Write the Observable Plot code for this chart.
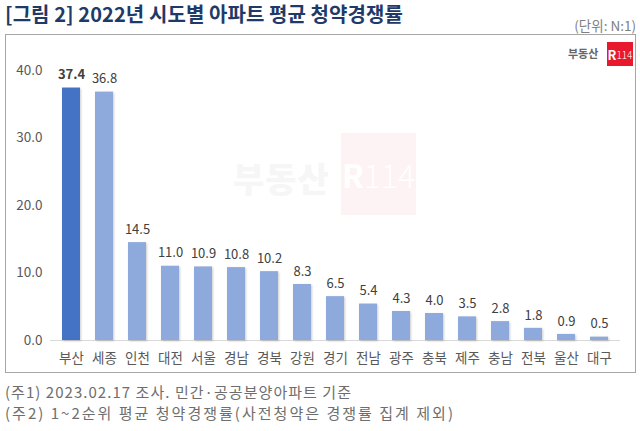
<!DOCTYPE html>
<html>
<head>
<meta charset="utf-8">
<script src="https://cdn.jsdelivr.net/npm/d3@7"></script>
<script src="https://cdn.jsdelivr.net/npm/@observablehq/plot@0.6"></script>
<style>
  html, body { margin: 0; padding: 0; background: #fff; }
  body { width: 640px; height: 431px; position: relative; overflow: hidden; font-family: "Noto Sans CJK KR", "Noto Sans", sans-serif; }
  #title { position: absolute; left: 5px; top: 0px; font-size: 20px; font-weight: bold; color: #1f3a68; white-space: nowrap; line-height: 28px; }
  #unit { position: absolute; right: 4px; top: 15px; font-size: 13.5px; color: #808080; white-space: nowrap; }
  #box { position: absolute; left: 5px; top: 34px; width: 631px; height: 339px; border: 1px solid #a6a6a6; box-sizing: border-box; }
  #chart { position: absolute; left: 0; top: 0; }
  #chart svg g[aria-label="bar"] rect { filter: drop-shadow(1.5px 1px 1px rgba(0,0,0,0.2)); }
  .wm { position: absolute; }
  #wmtext { left: 227px; top: 118px; font-size: 34px; font-weight: 900; color: #f6f6f6; letter-spacing: 1px; }
  #wmbox { left: 335px; top: 98px; width: 75px; height: 82px; background: #fef3f4; color: #fff; font-size: 32px; font-weight: bold; display: flex; align-items: center; justify-content: center; }
  #logotext { left: 562px; top: 10px; font-size: 11px; font-weight: bold; color: #666; }
  #logobox { left: 601px; top: 7px; width: 26px; height: 24px; background: #e8192c; color: #fff; font-size: 13px; font-weight: bold; display: flex; align-items: center; justify-content: center; }
  .note { position: absolute; left: 5px; font-size: 15px; color: #6e6e6e; line-height: 20px; white-space: nowrap; }
</style>
</head>
<body>
<div id="title" data-w="398">[그림 2] 2022년 시도별 아파트 평균 청약경쟁률</div>
<div id="unit">(단위: N:1)</div>
<div id="box">
  <div class="wm" id="wmtext">부동산</div>
  <div class="wm" id="wmbox">R<span style="font-weight:300">114</span></div>
  <div class="wm" id="logotext">부동산</div>
  <div class="wm" id="logobox">R<span style="font-weight:300;font-size:10px">114</span></div>
  <div id="chart"></div>
</div>
<div class="note" style="top:382px" data-w="347">(주1) 2023.02.17 조사. 민간·공공분양아파트 기준</div>
<div class="note" style="top:403px" data-w="450">(주2) 1~2순위 평균 청약경쟁률(사전청약은 경쟁률 집계 제외)</div>
<script>
const regions = ["부산","세종","인천","대전","서울","경남","경북","강원","경기","전남","광주","충북","제주","충남","전북","울산","대구"];
const values = [37.4,36.8,14.5,11.0,10.9,10.8,10.2,8.3,6.5,5.4,4.3,4.0,3.5,2.8,1.8,0.9,0.5];
const yTicks = [0,10,20,30,40];
const highlight = "부산";

const data = regions.map((r, i) => ({region: r, value: values[i]}));

const chart = Plot.plot({
  width: 629,
  height: 337,
  marginTop: 35,
  marginBottom: 32,
  marginLeft: 44,
  marginRight: 15,
  style: {fontFamily: "'Noto Sans CJK KR', 'Noto Sans', sans-serif", background: "transparent"},
  x: {domain: regions, paddingInner: 0.45, paddingOuter: 0.22},
  y: {domain: [0, 40]},
  marks: [
    Plot.ruleY([0], {stroke: "#d9d9d9", strokeWidth: 1}),
    Plot.barY(data, {x: "region", y: "value", fill: d => d.region === highlight ? "#4472c4" : "#8eaadc"}),
    Plot.text(data.filter(d => d.region === highlight), {x: "region", y: "value", text: d => d.value.toFixed(1), dy: -13, fontSize: 13, fontWeight: "bold", fill: "#404040"}),
    Plot.text(data.filter(d => d.region !== highlight), {x: "region", y: "value", text: d => d.value.toFixed(1), dy: -13, fontSize: 13, fill: "#404040"}),
    Plot.axisY({ticks: yTicks, tickFormat: d3.format(".1f"), tickSize: 0, tickPadding: 8, label: null, fontSize: 13.5, color: "#595959"}),
    Plot.axisX({tickSize: 0, tickPadding: 13, label: null, fontSize: 13.5, color: "#595959"})
  ]
});
document.getElementById("chart").appendChild(chart);

// stretch text lines to the widths seen in the reference
document.querySelectorAll("[data-w]").forEach(el => {
  const target = +el.dataset.w;
  const w = el.getBoundingClientRect().width;
  const n = el.textContent.length;
  el.style.letterSpacing = ((target - w) / n) + "px";
});
</script>
</body>
</html>
